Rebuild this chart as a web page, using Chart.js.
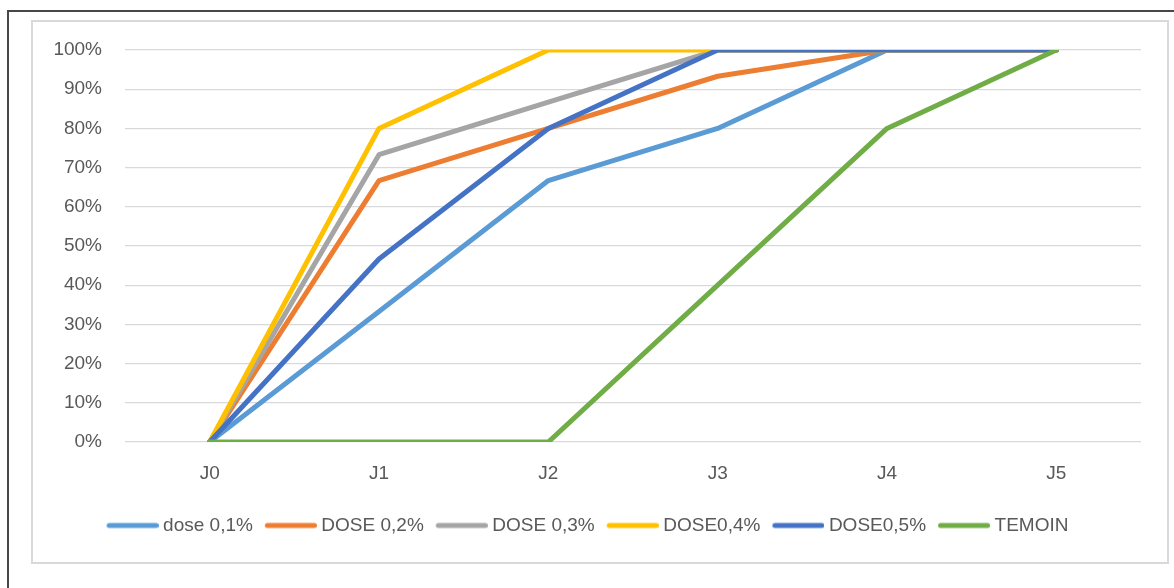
<!DOCTYPE html>
<html>
<head>
<meta charset="utf-8">
<script src="https://cdn.jsdelivr.net/npm/chart.js@4/dist/chart.umd.min.js"></script>
<style>
  html, body { margin: 0; padding: 0; background: #ffffff; overflow: hidden; }
  body { width: 1174px; height: 588px; position: relative; }
  #frame { position: absolute; left: 7px; top: 10px; width: 1200px; height: 600px;
           border: 2px solid #474747; box-sizing: border-box; }
  #panel { position: absolute; left: 31px; top: 20px; width: 1138px; height: 544px;
           border: 2px solid #d9d9d9; box-sizing: border-box; background: #fff; }
  #wrap { position: absolute; left: 34px; top: 23px; width: 1133px; height: 538px; }
</style>
</head>
<body>
<div id="frame"></div>
<div id="panel"></div>
<div id="wrap"><canvas id="c" width="1133" height="538"></canvas></div>
<script>
// Categories (days)
const days = ['J0', 'J1', 'J2', 'J3', 'J4', 'J5'];

// Cumulative rate per day, as fractions (0..1)
const dose01 = [0, 0.333, 0.667, 0.80, 1.00, 1.00];
const dose02 = [0, 0.667, 0.80, 0.933, 1.00, 1.00];
const dose03 = [0, 0.733, 0.867, 1.00, 1.00, 1.00];
const dose04 = [0, 0.80, 1.00, 1.00, 1.00, 1.00];
const dose05 = [0, 0.467, 0.80, 1.00, 1.00, 1.00];
const temoin = [0, 0, 0, 0.40, 0.80, 1.00];

const seriesNames = ['dose 0,1%', 'DOSE 0,2%', 'DOSE 0,3%', 'DOSE0,4%', 'DOSE0,5%', 'TEMOIN'];
const seriesData = [dose01, dose02, dose03, dose04, dose05, temoin];
const seriesColors = ['#5B9BD5', '#ED7D31', '#A5A5A5', '#FFC000', '#4472C4', '#70AD47'];

const FONT = '"Liberation Sans", Arial, sans-serif';
const TEXT = '#595959';
const LINE_W = 5;

// Legend swatch: a rounded line segment, offset so it sits close to its label
const BOX_W = 47;
function legendSwatch(color) {
  const c = document.createElement('canvas');
  c.width = 57; c.height = 10;
  const g = c.getContext('2d');
  g.strokeStyle = color;
  g.lineWidth = LINE_W;
  g.lineCap = 'round';
  g.beginPath();
  g.moveTo(5 + LINE_W / 2, 5);
  g.lineTo(57 - LINE_W / 2, 5);
  g.stroke();
  return c;
}

const datasets = seriesNames.map((name, i) => ({
  label: name,
  data: seriesData[i],
  // later series are painted over earlier ones
  order: seriesNames.length - i,
  borderColor: seriesColors[i],
  backgroundColor: seriesColors[i],
  borderWidth: LINE_W,
  borderCapStyle: 'round',
  borderJoinStyle: 'round',
  pointRadius: 0,
  pointHoverRadius: 0,
  pointStyle: legendSwatch(seriesColors[i]),
  tension: 0,
  fill: false
}));

new Chart(document.getElementById('c'), {
  type: 'line',
  data: { labels: days, datasets },
  options: {
    responsive: false,
    animation: false,
    devicePixelRatio: 1,
    layout: { padding: { left: 0, right: 26, top: 27, bottom: 16 } },
    plugins: {
      tooltip: { enabled: false },
      legend: {
        position: 'bottom',
        labels: {
          usePointStyle: true,
          pointStyleWidth: BOX_W,
          boxHeight: 19,
          padding: 12,
          color: TEXT,
          font: { family: FONT, size: 19 },
          sort: (a, b) => a.datasetIndex - b.datasetIndex
        }
      }
    },
    scales: {
      x: {
        offset: true,
        grid: { display: false, drawTicks: false },
        border: { display: false },
        ticks: { color: TEXT, padding: 20, font: { family: FONT, size: 19 } },
        afterFit: (s) => { s.height = 62; }
      },
      y: {
        min: 0,
        max: 1,
        grid: { color: '#d9d9d9', lineWidth: 1.3, drawTicks: false },
        border: { display: false },
        ticks: {
          stepSize: 0.1,
          padding: 23,
          color: TEXT,
          font: { family: FONT, size: 19 },
          callback: (v) => Math.round(v * 100) + '%'
        },
        afterFit: (s) => {
          s.width = 91;
          // label gap should not push the plot area down
          s.paddingTop = 0;
          s.paddingBottom = 0;
        }
      }
    }
  }
});
</script>
</body>
</html>
